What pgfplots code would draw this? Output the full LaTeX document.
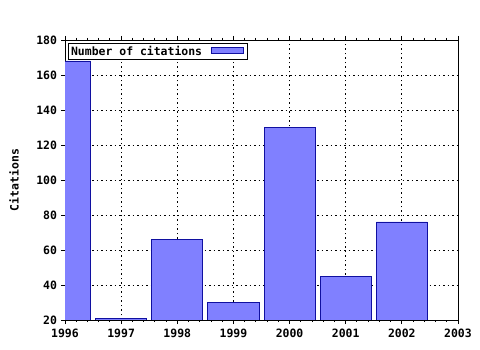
\documentclass[border=0pt]{standalone}
\usepackage{pgfplots}
\pgfplotsset{compat=1.18}
\usepackage{fontspec}
\setmainfont{DejaVu Sans Mono}
\definecolor{barfill}{RGB}{128,128,255}
\definecolor{barline}{RGB}{16,16,160}
\newcommand{\chartfont}{\fontsize{11.5}{13}\selectfont\bfseries}
\begin{document}
\chartfont
\begin{tikzpicture}
\path[use as bounding box] (0,0) rectangle (480bp,350bp);
\begin{axis}[
  at={(65bp,30bp)}, anchor=south west,
  scale only axis, width=393bp, height=280bp,
  xmin=1996, xmax=2003, ymin=20, ymax=180,
  xtick distance=1, ytick distance=20,
  minor x tick num=4,
  /pgf/number format/assume math mode=true,
  /pgf/number format/1000 sep={},
  ticklabel style={font=\chartfont},
  xticklabel style={yshift=-1bp},
  tick align=outside,
  major tick length=4bp, minor tick length=2bp,
  ytick pos=left, xtick pos=both,
  grid=major,
  major grid style={black, dash pattern=on 1.5bp off 3bp, line width=0.9pt},
  axis line style={black, line width=0.9pt},
  tick style={black, line width=0.9pt},
  ylabel={Citations},
  ylabel style={at={(axis description cs:0,0.5)}, anchor=center, yshift=51bp, font=\chartfont},
  legend style={at={(axis description cs:0.008,0.99)}, anchor=north west, draw=black, line width=0.9pt, inner sep=0.5pt, font=\chartfont},
  legend plot pos=right,
  legend image code/.code={\path (0bp,0bp); \draw[#1, line width=0.9pt] (7bp,-2.5bp) rectangle (39bp,4bp); \path (42bp,0bp);},
  clip=true,
]
\addplot[ybar, bar width=0.91, fill=barfill, draw=barline, line width=0.9pt]
  coordinates {(1996,168) (1997,21) (1998,66) (1999,30) (2000,130) (2001,45) (2002,76)};
\addlegendentry{Number of citations}
\end{axis}
\end{tikzpicture}
\end{document}
